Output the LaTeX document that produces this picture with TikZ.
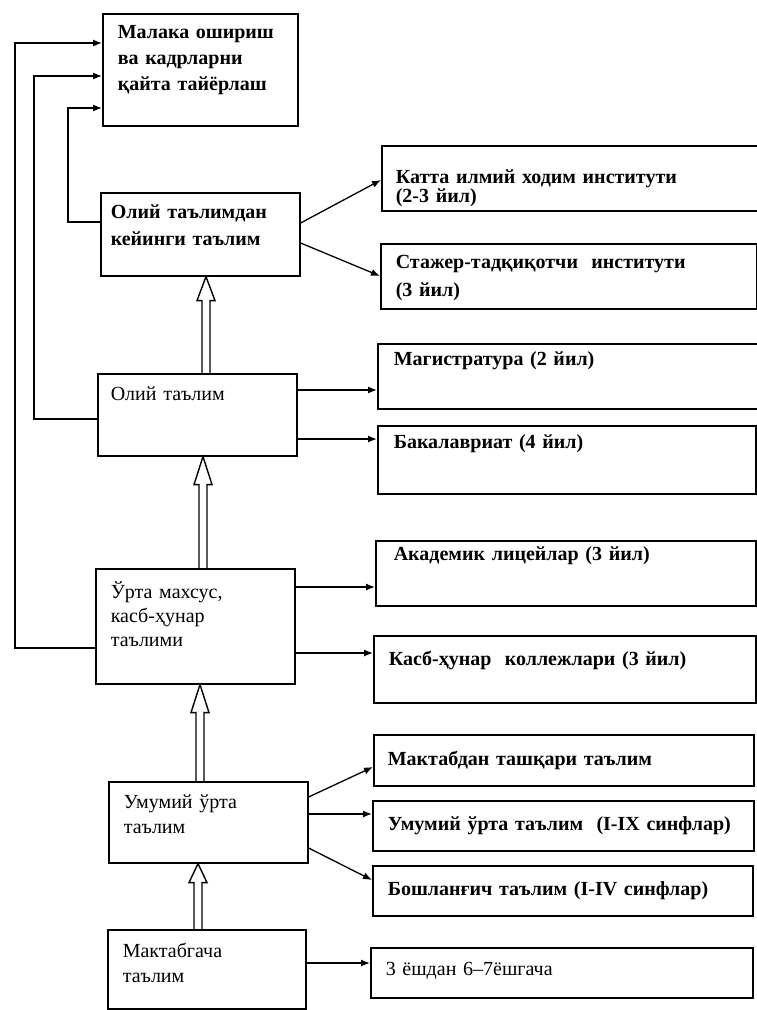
\documentclass[tikz,border=0pt]{standalone}
\usepackage{fontspec}
\setmainfont{Liberation Serif}
\usetikzlibrary{arrows.meta,calc}

% hollow upward arrow: x, lower node, upper node, head length
\newcommand{\liftarrow}[4]{%
  \draw[lift] let \p1=(#2.north), \p2=(#3.south) in
    (#1pt-4pt,\y1) -- (#1pt-4pt,\y2-#4pt) -- (#1pt-9pt,\y2-#4pt) -- (#1pt,\y2)
    -- (#1pt+9pt,\y2-#4pt) -- (#1pt+4pt,\y2-#4pt) -- (#1pt+4pt,\y1);}

\tikzset{
  box/.style={draw, line width=1.6pt, anchor=north west, inner ysep=0pt, align=left},
  dims/.style n args={4}{text width=#1pt, inner xsep=#2pt, text height=#3pt, text depth=#4pt},
  lead/.style={font=\fontsize{20}{#1}\selectfont},
  heavy/.style={font=\fontsize{20}{#1}\selectfont\bfseries},
  conn/.style={line width=1.3pt, -{Latex[length=9pt,width=7pt]}},
  lift/.style={line width=1.4pt, line join=miter},
}

\begin{document}
\begin{tikzpicture}[x=1pt, y=-1pt]
  \useasboundingbox (0,0) rectangle (757,1010);

  % left column
  \node[box, dims={165}{15}{25}{87}, heavy=26] (malaka) at (102,13)
    {Малака ошириш\\ва кадрларни\\қайта тайёрлаш};
  \node[box, dims={179}{10}{26}{57}, heavy=27] (oliydan) at (100,192)
    {Олий таълимдан\\кейинги таълим};
  \node[box, dims={173}{13}{27}{55}, lead=25] (oliy) at (97,373) {Олий таълим};
  \node[box, dims={169}{15}{30}{85}, lead=24] (urta) at (95,568)
    {Ўрта махсус,\\касб-ҳунар\\таълими};
  \node[box, dims={169}{15}{27}{54}, lead=25] (umumiy) at (108,781)
    {Умумий ўрта\\таълим};
  \node[box, dims={168}{15}{28}{51}, lead=25] (maktabgacha) at (107,929)
    {Мактабгача\\таълим};

  % right column
  \node[box, dims={353}{14}{38}{27}, heavy=18] (katta) at (381,145)
    {Катта илмий ходим институти\\(2-3 йил)};
  \node[box, dims={346}{15}{25}{40}, heavy=28] (stajer) at (380,243)
    {Стажер-тадқиқотчи~ институти\\(3 йил)};
  \node[box, dims={348}{16}{22}{43}, heavy=25] (magistr) at (377,343) {Магистратура (2 йил)};
  \node[box, dims={346}{16}{23}{45}, heavy=25] (bakalavr) at (377,425) {Бакалавриат (4 йил)};
  \node[box, dims={344}{18}{20}{45}, heavy=25] (akadem) at (375,540) {Академик лицейлар (3 йил)};
  \node[box, dims={352}{15}{30}{37}, heavy=25] (kasb) at (373,635) {Касб-ҳунар~ коллежлари (3 йил)};
  \node[box, dims={352}{14}{31}{20}, heavy=25] (maktabdan) at (373,734) {Мактабдан ташқари таълим};
  \node[box, dims={351}{15}{30}{20}, heavy=25] (sinf9) at (372,800) {Умумий ўрта таълим~ (I-IX синфлар)};
  \node[box, dims={350}{15}{30}{20}, heavy=25] (sinf4) at (372,865) {Бошланғич таълим (I-IV синфлар)};
  \node[box, dims={352}{15}{28}{22}, lead=25] (yosh) at (370,947) {3 ёшдан 6–7ёшгача};

  % branches to the right
  \draw[conn] (oliydan.east |- 0,223) -- (katta.west |- 0,180);
  \draw[conn] (oliydan.east |- 0,243) -- (stajer.west |- 0,276);
  \draw[conn] (oliy.east |- 0,390) -- (magistr.west |- 0,390);
  \draw[conn] (oliy.east |- 0,439) -- (bakalavr.west |- 0,439);
  \draw[conn] (urta.east |- 0,587) -- (akadem.west |- 0,587);
  \draw[conn] (urta.east |- 0,653) -- (kasb.west |- 0,653);
  \draw[conn] (umumiy.east |- 0,797) -- (maktabdan.west |- 0,767);
  \draw[conn] (umumiy.east |- 0,814) -- (sinf9.west |- 0,814);
  \draw[conn] (umumiy.east |- 0,848) -- (sinf4.west |- 0,880);
  \draw[conn] (maktabgacha.east |- 0,963) -- (yosh.west |- 0,963);

  % back to retraining
  \draw[conn] (urta.west |- 0,648) -- (15,648) |- (malaka.west |- 0,43);
  \draw[conn] (oliy.west |- 0,419) -- (34,419) |- (malaka.west |- 0,76);
  \draw[conn] (oliydan.west |- 0,222) -- (68,222) |- (malaka.west |- 0,108);

  % upward steps
  \liftarrow{198}{maktabgacha}{umumiy}{19}
  \liftarrow{200}{umumiy}{urta}{28}
  \liftarrow{203}{urta}{oliy}{28}
  \liftarrow{206}{oliy}{oliydan}{24}
\end{tikzpicture}
\end{document}
